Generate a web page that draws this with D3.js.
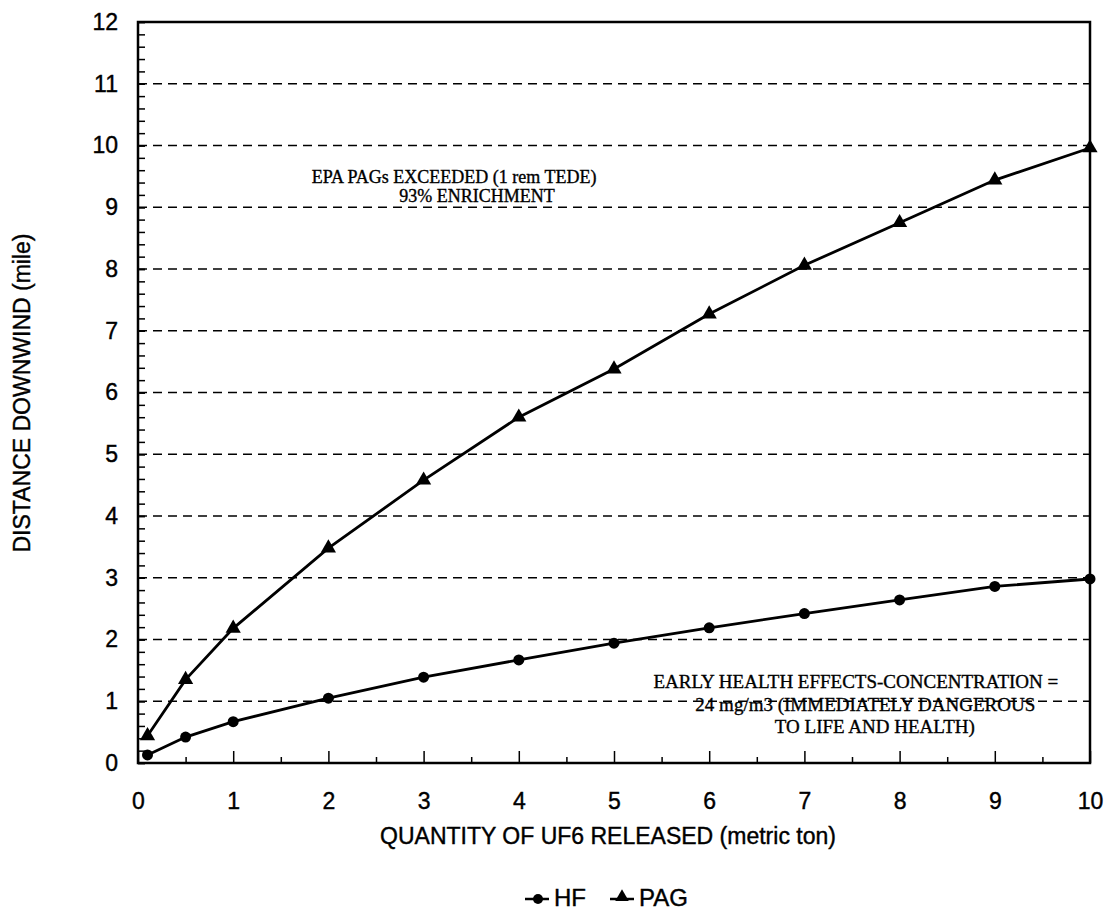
<!DOCTYPE html>
<html>
<head>
<meta charset="utf-8">
<script src="https://cdn.jsdelivr.net/npm/d3@7"></script>
<style>
  body { margin: 0; background: #fff; }
  svg { display: block; }
</style>
</head>
<body>
<div id="chart-area"></div>
<script>
// released quantity (metric ton)
var quantity = [0.1, 0.5, 1, 2, 3, 4, 5, 6, 7, 8, 9, 10];
// distance downwind (mile)
var hfDist  = [0.13, 0.42, 0.67, 1.05, 1.39, 1.67, 1.94, 2.19, 2.42, 2.64, 2.86, 2.98];
var pagDist = [0.44, 1.35, 2.18, 3.48, 4.58, 5.6, 6.38, 7.27, 8.06, 8.75, 9.44, 9.96];
var xTicks = [0, 1, 2, 3, 4, 5, 6, 7, 8, 9, 10];
var yTicks = [0, 1, 2, 3, 4, 5, 6, 7, 8, 9, 10, 11, 12];
var seriesNames = ["HF", "PAG"];

var width = 1113, height = 915;
var margin = {top: 22, right: 23, bottom: 152, left: 138};
var w = width - margin.left - margin.right;
var h = height - margin.top - margin.bottom;

var svg = d3.select("#chart-area").append("svg")
    .attr("width", width)
    .attr("height", height);

var g = svg.append("g")
    .attr("transform", "translate(" + margin.left + "," + margin.top + ")");

var x = d3.scaleLinear().domain([0, 10]).range([0, w]);
var y = d3.scaleLinear().domain([0, 12]).range([h, 0]);

// dashed grid
g.selectAll(".grid").data(yTicks.filter(function(d){ return d > 0 && d < 12; }))
  .enter().append("line")
    .attr("class", "grid")
    .attr("x1", 0).attr("x2", w)
    .attr("y1", function(d){ return y(d); })
    .attr("y2", function(d){ return y(d); })
    .attr("stroke", "#000")
    .attr("stroke-width", 1.7)
    .attr("stroke-dasharray", "9,6");

// minor ticks
var minorY = d3.range(0, 12.01, 0.2).map(function(d){ return +d.toFixed(1); });
g.append("g")
    .call(d3.axisLeft(y).tickValues(minorY).tickSize(-7).tickFormat(""))
    .call(function(s){ s.select(".domain").remove(); })
    .selectAll("line").attr("stroke-width", 1.5);
var minorX = d3.range(0.5, 10, 1);
g.append("g")
    .attr("transform", "translate(0," + h + ")")
    .call(d3.axisBottom(x).tickValues(minorX).tickSize(-6).tickFormat(""))
    .call(function(s){ s.select(".domain").remove(); })
    .selectAll("line").attr("stroke-width", 1.5);

// major axes
var xAxis = g.append("g")
    .attr("transform", "translate(0," + h + ")")
    .call(d3.axisBottom(x).tickValues(xTicks).tickSize(-12).tickPadding(30));
xAxis.select(".domain").remove();
xAxis.selectAll("line").attr("stroke-width", 1.5);
xAxis.selectAll("text")
    .attr("font-family", "Liberation Sans, Arial, sans-serif")
    .attr("font-size", "23px")
    .attr("fill", "#000")
    .attr("stroke", "#000").attr("stroke-width", 0.4);

var yAxis = g.append("g")
    .call(d3.axisLeft(y).tickValues(yTicks).tickSize(-7).tickPadding(20));
yAxis.select(".domain").remove();
yAxis.selectAll("line").attr("stroke-width", 1.5);
yAxis.selectAll("text")
    .attr("font-family", "Liberation Sans, Arial, sans-serif")
    .attr("font-size", "23px")
    .attr("fill", "#000")
    .attr("stroke", "#000").attr("stroke-width", 0.4);

// frame
g.append("rect")
    .attr("x", 0).attr("y", 0)
    .attr("width", w).attr("height", h)
    .attr("fill", "none")
    .attr("stroke", "#000")
    .attr("stroke-width", 2.5);

// series
var line = d3.line()
    .x(function(d){ return x(d[0]); })
    .y(function(d){ return y(d[1]); });
var hfPts = quantity.map(function(q, i){ return [q, hfDist[i]]; });
var pagPts = quantity.map(function(q, i){ return [q, pagDist[i]]; });

g.append("path").datum(hfPts)
    .attr("d", line).attr("fill", "none")
    .attr("stroke", "#000").attr("stroke-width", 2.8);
g.append("path").datum(pagPts)
    .attr("d", line).attr("fill", "none")
    .attr("stroke", "#000").attr("stroke-width", 2.8);

g.selectAll(".hf").data(hfPts).enter().append("circle")
    .attr("class", "hf")
    .attr("cx", function(d){ return x(d[0]); })
    .attr("cy", function(d){ return y(d[1]); })
    .attr("r", 5.5)
    .attr("fill", "#000");

var tri = d3.symbol(d3.symbolTriangle, 100);
g.selectAll(".pag").data(pagPts).enter().append("path")
    .attr("class", "pag")
    .attr("d", tri)
    .attr("transform", function(d){ return "translate(" + x(d[0]) + "," + y(d[1]) + ")"; })
    .attr("fill", "#000");

// annotations
var notes = [
  {t: "EPA PAGs EXCEEDED (1 rem TEDE)", qx: 3.32, qy: 9.4, fs: 18},
  {t: "93% ENRICHMENT", qx: 3.56, qy: 9.08, fs: 18},
  {t: "EARLY HEALTH EFFECTS-CONCENTRATION =", qx: 7.54, qy: 1.21, fs: 19},
  {t: "24 mg/m3 (IMMEDIATELY DANGEROUS", qx: 7.64, qy: 0.84, fs: 19},
  {t: "TO LIFE AND HEALTH)", qx: 7.74, qy: 0.48, fs: 19}
];
g.selectAll(".note").data(notes).enter().append("text")
    .attr("class", "note")
    .attr("x", function(d){ return x(d.qx); })
    .attr("y", function(d){ return y(d.qy); })
    .attr("text-anchor", "middle")
    .attr("font-family", "Liberation Serif, Times New Roman, serif")
    .attr("font-size", function(d){ return d.fs + "px"; })
    .attr("fill", "#000")
    .attr("stroke", "#000").attr("stroke-width", 0.35)
    .text(function(d){ return d.t; });

// axis titles
svg.append("text")
    .attr("x", margin.left + w / 2 - 6)
    .attr("y", 844)
    .attr("text-anchor", "middle")
    .attr("font-family", "Liberation Sans, Arial, sans-serif")
    .attr("font-size", "23px")
    .attr("stroke", "#000").attr("stroke-width", 0.4)
    .text("QUANTITY OF UF6 RELEASED (metric ton)");
svg.append("text")
    .attr("transform", "translate(30," + 393 + ") rotate(-90)")
    .attr("text-anchor", "middle")
    .attr("font-family", "Liberation Sans, Arial, sans-serif")
    .attr("font-size", "23px")
    .attr("stroke", "#000").attr("stroke-width", 0.4)
    .text("DISTANCE DOWNWIND (mile)");

// legend
var legend = svg.append("g").attr("transform", "translate(525,899)");
var items = legend.selectAll("g").data(seriesNames).enter().append("g")
    .attr("transform", function(d, i){ return "translate(" + (i * 85) + ",0)"; });
items.append("line")
    .attr("x1", 0).attr("x2", 24).attr("y1", 0).attr("y2", 0)
    .attr("stroke", "#000").attr("stroke-width", 2.5);
items.filter(function(d){ return d === "HF"; }).append("circle")
    .attr("cx", 13).attr("cy", 0).attr("r", 5).attr("fill", "#000");
items.filter(function(d){ return d === "PAG"; }).append("path")
    .attr("d", d3.symbol(d3.symbolTriangle, 80))
    .attr("transform", "translate(12,-2)").attr("fill", "#000");
items.append("text")
    .attr("x", 29).attr("y", 7)
    .attr("font-family", "Liberation Sans, Arial, sans-serif")
    .attr("font-size", "24px")
    .attr("stroke", "#000").attr("stroke-width", 0.4)
    .text(function(d){ return d; });
</script>
</body>
</html>
